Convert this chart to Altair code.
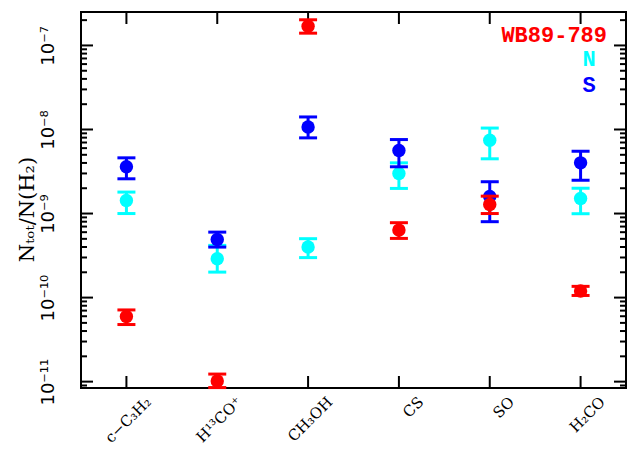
import altair as alt
import pandas as pd

molecules = ["c−C₃H₂", "H¹³CO⁺", "CH₃OH", "CS", "SO", "H₂CO"]

# WB89-789 (red)
red_val = [5.95e-11, 1.02e-11, 1.69e-7, 6.35e-10, 1.28e-9, 1.20e-10]
red_lo = [4.78e-11, 8.5e-12, 1.40e-7, 5.06e-10, 1.00e-9, 1.06e-10]
red_hi = [7.13e-11, 1.23e-11, 2.02e-7, 7.78e-10, 1.61e-9, 1.36e-10]
# N (cyan)
n_val = [1.43e-9, 2.90e-10, 3.99e-10, 2.99e-9, 7.44e-9, 1.51e-9]
n_lo = [1.00e-9, 2.01e-10, 2.99e-10, 1.99e-9, 4.48e-9, 9.95e-10]
n_hi = [1.80e-9, 4.18e-10, 5.02e-10, 4.01e-9, 1.04e-8, 2.00e-9]
# S (blue)
s_val = [3.60e-9, 4.92e-10, 1.07e-8, 5.62e-9, 1.60e-9, 4.01e-9]
s_lo = [2.59e-9, 3.99e-10, 7.95e-9, 3.60e-9, 8.00e-10, 2.49e-9]
s_hi = [4.60e-9, 6.01e-10, 1.41e-8, 7.59e-9, 2.39e-9, 5.51e-9]

major_ticks = [1e-11, 1e-10, 1e-9, 1e-8, 1e-7]
major_labels = ["10⁻¹¹", "10⁻¹⁰", "10⁻⁹", "10⁻⁸", "10⁻⁷"]
minor_mult = [2, 3, 4, 5, 6, 7, 8, 9]
y_domain = [8.4e-12, 2.5e-7]

W, H = 545, 376

minor_ticks = [m * t for t in [1e-12] + major_ticks for m in minor_mult]
minor_ticks = [v for v in minor_ticks if y_domain[0] <= v <= y_domain[1]]

yscale = alt.Scale(type="log", domain=y_domain, nice=False)
xscale = alt.Scale(domain=molecules, paddingInner=0, paddingOuter=0)

label_expr = " : ".join(
    f"datum.value < {t * 1.5:.3g} ? '{l}'" for t, l in zip(major_ticks, major_labels)
) + " : ''"

yaxis = alt.Axis(
    values=major_ticks, labelExpr=label_expr, domain=False, ticks=False, tickSize=0,
    grid=False, labelAngle=-90, labelAlign="center", labelBaseline="alphabetic",
    labelPadding=28, labelFont="DejaVu Sans", labelFontSize=18, labelColor="black",
    title="Nₜₒₜ/N(H₂)", titleFont="DejaVu Serif", titleFontSize=21,
    titleFontWeight="normal", titleColor="black", titleAngle=-90,
    titleX=-48, titleY=197, titleAlign="center", titleBaseline="alphabetic",
)
xaxis = alt.Axis(
    domain=False, ticks=False, tickSize=0, grid=False, labelAngle=-45,
    labelAlign="right", labelBaseline="top", labelOffset=17, labelPadding=6,
    labelFont="DejaVu Serif", labelFontSize=15, labelColor="black", title=None,
)

def X(field="mol:N"):
    return alt.X(field, scale=xscale, axis=xaxis)

def Y(field):
    return alt.Y(field, scale=yscale, axis=yaxis)

def series(vals, los, his, color):
    df = pd.DataFrame({"mol": molecules, "v": vals, "lo": los, "hi": his})
    b = alt.Chart(df)
    rule = b.mark_rule(color=color, strokeWidth=3).encode(
        x=X(), y=Y("lo:Q"), y2="hi:Q")
    cap_lo = b.mark_tick(color=color, size=18, thickness=3, opacity=1).encode(
        x=X(), y=Y("lo:Q"))
    cap_hi = b.mark_tick(color=color, size=18, thickness=3, opacity=1).encode(
        x=X(), y=Y("hi:Q"))
    dot = b.mark_circle(color=color, size=180, opacity=1).encode(
        x=X(), y=Y("v:Q"))
    return [rule, cap_lo, cap_hi, dot]

maj_df = pd.DataFrame({"v": major_ticks})
min_df = pd.DataFrame({"v": minor_ticks})
cat_df = pd.DataFrame({"mol": molecules})

def yrule(df, x0, x1):
    return alt.Chart(df).mark_rule(color="black", strokeWidth=2).encode(
        y=Y("v:Q"), x=alt.value(x0), x2=alt.value(x1))

def xrule(y0, y1):
    return alt.Chart(cat_df).mark_rule(color="black", strokeWidth=2).encode(
        x=X(), y=alt.value(y0), y2=alt.value(y1))

legend_t = ["WB89-789", "N", "S"]
legend_c = ["#ff0000", "#00ffff", "#0000ff"]

def leg(i, x, y, align):
    return alt.Chart(pd.DataFrame({"t": [legend_t[i]]})).mark_text(
        font="Liberation Mono", fontWeight="bold", fontSize=22, align=align,
        baseline="alphabetic", color=legend_c[i]).encode(
        text="t:N", x=alt.value(x), y=alt.value(y))

layers = [yrule(maj_df, 0, 12), yrule(maj_df, W, W - 12),
          yrule(min_df, 0, 6), yrule(min_df, W, W - 6),
          xrule(H, H - 12), xrule(0, 12)]
layers += series(n_val, n_lo, n_hi, "#00ffff")
layers += series(s_val, s_lo, s_hi, "#0000ff")
layers += series(red_val, red_lo, red_hi, "#ff0000")
layers += [leg(0, 526, 30, "right"), leg(1, 508, 54, "center"), leg(2, 508, 80, "center")]

chart = alt.layer(*layers).properties(
    width=W, height=H,
    autosize=alt.AutoSizeParams(type="none"),
    padding={"left": 73, "top": 4, "right": 1, "bottom": 58},
    background="white",
).configure_view(stroke="black", strokeWidth=2)

chart.save("out.html", embed_options={"renderer": "svg", "actions": False})
